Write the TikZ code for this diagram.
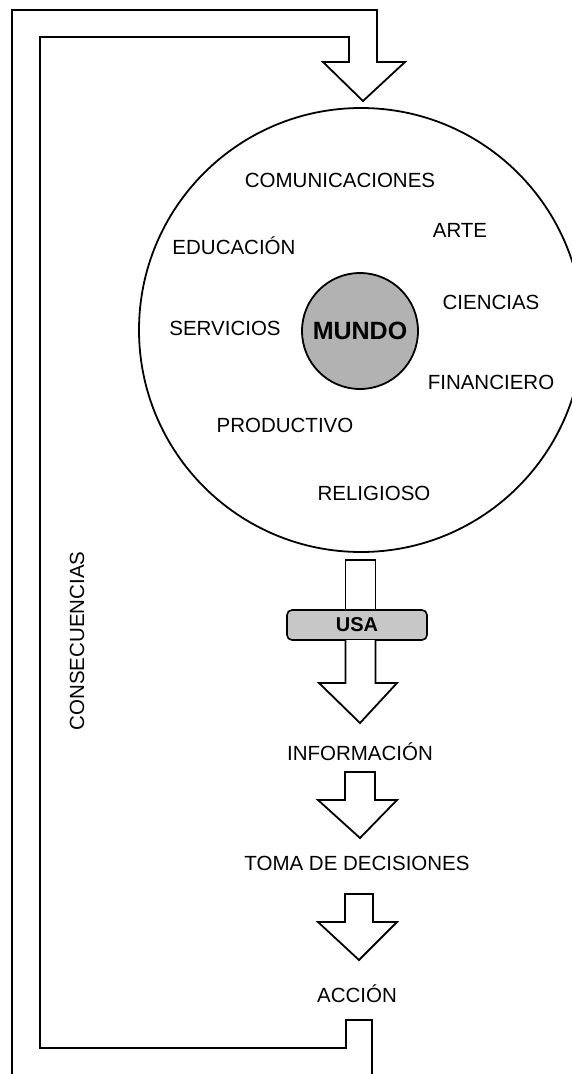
\documentclass[tikz,border=0pt]{standalone}
\usepackage{fontspec}
\setmainfont{Liberation Sans}
\begin{document}
\begin{tikzpicture}[x=1pt,y=-1pt,
  outl/.style={draw=black, line width=1.8pt, line join=miter},
  lbl/.style={anchor=base, inner sep=0pt, font=\fontsize{20.5}{24}\selectfont},
  worldcirc/.style={outl, circle, minimum size=444pt, inner sep=0pt},
  mundocirc/.style={outl, circle, fill=black!30, minimum size=116pt, inner sep=0pt,
    font=\fontsize{25}{30}\selectfont\bfseries},
  usabox/.style={draw=black, line width=1.6pt, fill=black!22, rounded corners=5pt,
    minimum width=140pt, minimum height=30pt, inner sep=0pt,
    font=\fontsize{20}{24}\selectfont\bfseries},
  blockarrow/.style={outl, fill=white}]
\useasboundingbox (0,0) rectangle (572,1074);
\fill[white] (0,0) rectangle (572,1074);
\clip (0,0) rectangle (572,1074);

% world circle and its sectors
\node[worldcirc] (world) at (361,330) {};
\node[mundocirc] (mundo) at (360,331) {MUNDO};
\node[lbl] (com) at (340,187.3) {COMUNICACIONES};
\node[lbl] (arte) at (460,237.3) {ARTE};
\node[lbl] (edu) at (234,254.3) {EDUCACIÓN};
\node[lbl] (cien) at (491,309.3) {CIENCIAS};
\node[lbl] (serv) at (225,335.3) {SERVICIOS};
\node[lbl] (fin) at (491,389.3) {FINANCIERO};
\node[lbl] (prod) at (285,432.3) {PRODUCTIVO};
\node[lbl] (rel) at (374,500.3) {RELIGIOSO};

% flow below the world
\draw[blockarrow] (345.5,610) -- (345.5,560) -- (375.5,560) -- (375.5,610);
\node[usabox] (usa) at (357,625) {USA};
\draw[blockarrow] (345.5,640) -- (345.5,683) -- (319,683) -- (360,723) -- (397,683) -- (375.5,683) -- (375.5,640);
\node[lbl] (info) at (360,760.3) {INFORMACIÓN};
\draw[blockarrow] (345,772) -- (345,800) -- (318,800) -- (360,838) -- (397,800) -- (375,800) -- (375,772) -- cycle;
\node[lbl] (toma) at (357,870.3) {TOMA DE DECISIONES};
\draw[blockarrow] (345,894) -- (345,922) -- (318,922) -- (359,960) -- (397,922) -- (373,922) -- (373,894) -- cycle;
\node[lbl] (accion) at (357,1002.3) {ACCIÓN};

% feedback loop (consequences)
\coordinate (fbout) at (12,1085);
\coordinate (fbin) at (372,1085);
\coordinate (toptip) at (363,101);
\draw[outl] (fbout) -- (12,10) -- (377,10) -- (377,62) -- (405,62) -- (toptip)
  -- (323,62) -- (349,62) -- (349,37) -- (40,37) -- (40,1048) -- (346,1048)
  -- (346,1020) -- (372,1020) -- (fbin);
\node[inner sep=0pt, rotate=90, font=\fontsize{20.5}{24}\selectfont] (cons) at (77,641) {CONSECUENCIAS};
\end{tikzpicture}
\end{document}
